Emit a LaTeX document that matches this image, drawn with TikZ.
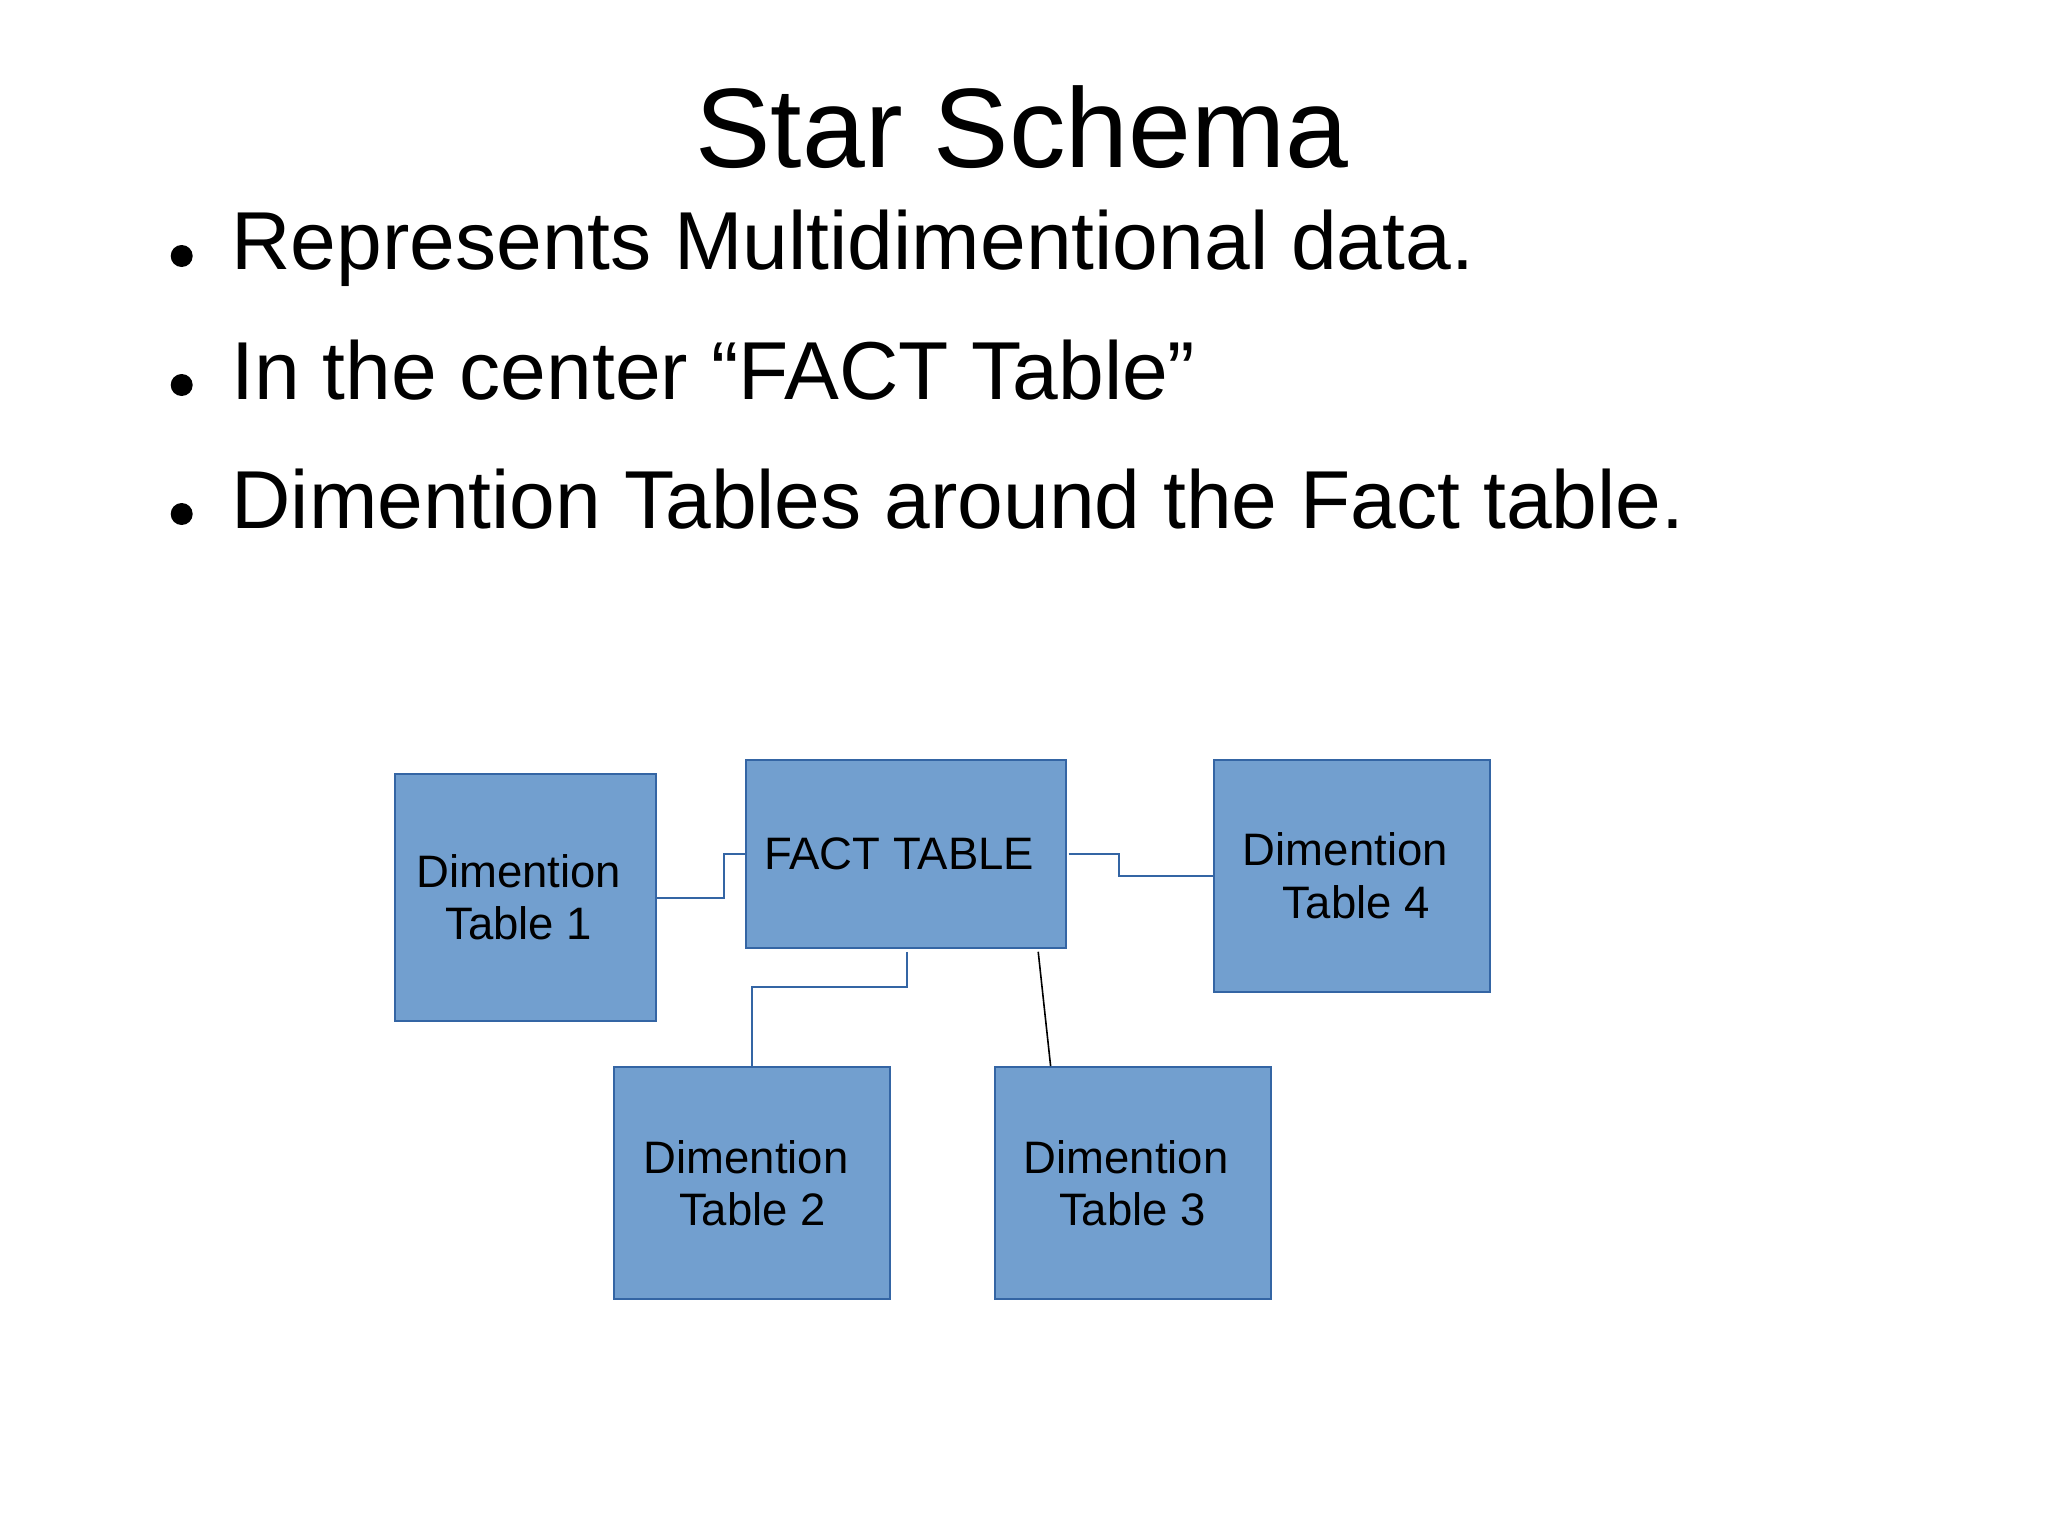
\documentclass[tikz,border=0pt]{standalone}
\usepackage{fontspec}
\setmainfont{Liberation Sans}
\usetikzlibrary{calc}
\definecolor{boxfill}{HTML}{729FCF}
\definecolor{boxline}{HTML}{3465A4}
\tikzset{
  tbl/.style={draw=boxline, fill=boxfill, line width=1pt, rectangle, inner sep=0pt,
    align=center, font=\fontsize{22.75}{26.2}\selectfont, text=black},
  conn/.style={draw=boxline, line width=1pt},
  blackconn/.style={draw=black, line width=0.8pt},
  bulletdot/.style={circle, fill=black, inner sep=0pt, minimum size=11pt},
  bullettext/.style={anchor=base west, inner sep=0pt, font=\fontsize{41.1}{48}\selectfont},
  titletext/.style={anchor=base, inner sep=0pt, font=\fontsize{56.5}{60}\selectfont}
}
\begin{document}
\begin{tikzpicture}[x=0.5pt, y=-0.5pt]
\useasboundingbox[fill=white] (0,0) rectangle (2048,1536);

% title and bullets
\node[titletext] (title) at (1022,167.5) {Star Schema};
\node[bulletdot] (b1) at (181.7,256) {};
\node[bullettext] (t1) at (231,269) {Represents Multidimentional data.};
\node[bulletdot] (b2) at (181.7,385) {};
\node[bullettext] (t2) at (231,399.5) {In the center “FACT Table”};
\node[bulletdot] (b3) at (181.7,514) {};
\node[bullettext] (t3) at (231,528.3) {Dimention Tables around the Fact table.};

% tables
\node[tbl, minimum width=130.4pt, minimum height=123.2pt] (dt1) at (525.1,897.5)
  {Dimention\hspace*{0.28em}\\Table 1\hspace*{0.28em}};
\node[tbl, minimum width=160pt, minimum height=93.85pt] (fact) at (905.5,853.9)
  {FACT TABLE\hspace*{0.28em}};
\node[tbl, minimum width=138pt, minimum height=115.85pt] (dt4) at (1351.7,875.9)
  {Dimention\hspace*{0.28em}\\\hspace*{0.2em}Table 4};
\node[tbl, minimum width=138pt, minimum height=116pt] (dt2) at (752.4,1183)
  {Dimention\hspace*{0.28em}\\Table 2};
\node[tbl, minimum width=138pt, minimum height=116.15pt] (dt3) at (1132.5,1183.2)
  {Dimention\hspace*{0.28em}\\Table 3};

% connectors
\draw[conn] (dt1.east) -- ++(67.5,0) |- (fact.west);
\draw[conn] ([shift={(2,0)}]fact.east) -- ++(50,0) |- (dt4.west);
\draw[conn] ([shift={(1.5,3)}]fact.south) -- ++(0,35) -| (dt2.north);
\draw[blackconn] ([shift={(132.7,3)}]fact.south) -- ([shift={(-81.9,0)}]dt3.north);
\end{tikzpicture}
\end{document}
